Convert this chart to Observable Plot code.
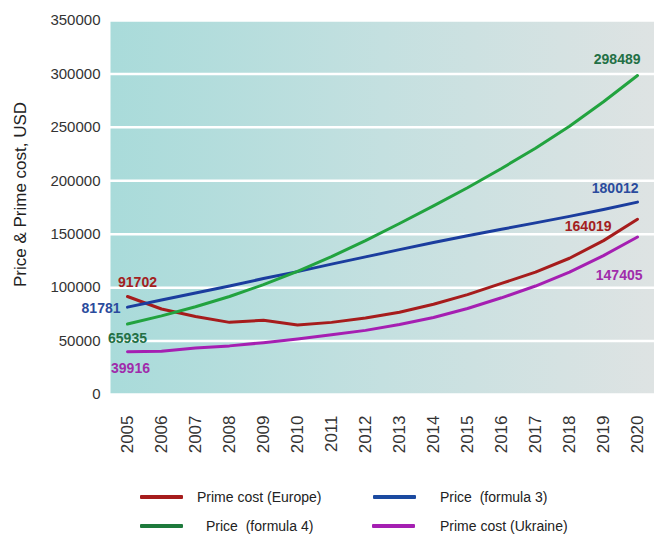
<!DOCTYPE html>
<html>
<head>
<meta charset="utf-8">
<script src="https://cdn.jsdelivr.net/npm/d3@7"></script>
<script src="https://cdn.jsdelivr.net/npm/@observablehq/plot@0.6"></script>
<style>
  html, body { margin: 0; padding: 0; background: #ffffff; }
  #wrap { position: relative; width: 654px; height: 535px; font-family: "Liberation Sans", Arial, sans-serif; }
  .leg { position: absolute; display: flex; align-items: center; font-size: 14px; color: #222; white-space: pre; }
  .sw { display: inline-block; width: 43px; height: 4px; border-radius: 1px; }
</style>
</head>
<body>
<div id="wrap"></div>
<script>
const years = [2005, 2006, 2007, 2008, 2009, 2010, 2011, 2012, 2013, 2014, 2015, 2016, 2017, 2018, 2019, 2020];
const primeCostEurope  = [91702, 80000, 73000, 67500, 69500, 65000, 67500, 71500, 77000, 84500, 93500, 104000, 114500, 127500, 144000, 164019];
const priceFormula3    = [81781, 88500, 95000, 101500, 108500, 115000, 122000, 128800, 135600, 142300, 148600, 154600, 160600, 166700, 173200, 180012];
const priceFormula4    = [65935, 73600, 82100, 91700, 102800, 115200, 129000, 144000, 160000, 176500, 193500, 211500, 230500, 251000, 274000, 298489];
const primeCostUkraine = [39916, 40400, 43500, 45500, 48500, 52000, 56000, 60000, 65500, 72000, 80500, 90500, 101500, 114500, 130000, 147405];
const seriesNames = ["Prime cost (Europe)", "Price  (formula 3)", "Price  (formula 4)", "Prime cost (Ukraine)"];
const seriesColors = ["#a61c1c", "#1b3d9e", "#22a33f", "#a51fb2"];
const labelColors = ["#a32020", "#2a4b9d", "#237045", "#a02cab"];
const legendColors = ["#a61c1c", "#1b4aa0", "#1e7a3c", "#a51fb2"];
const yTicks = [0, 50000, 100000, 150000, 200000, 250000, 300000, 350000];
const yLabel = "Price & Prime cost, USD";

const seriesValues = [primeCostEurope, priceFormula3, priceFormula4, primeCostUkraine];
const table = [];
seriesValues.forEach((vals, s) => years.forEach((yr, i) => table.push({year: yr, value: vals[i], series: seriesNames[s]})));

function endLabel(s, idx, opts) {
  const vals = seriesValues[s];
  return Plot.text([{year: years[idx], value: vals[idx]}], {
    x: "year", y: "value", text: d => String(d.value),
    fill: labelColors[s], fontWeight: "bold", fontSize: 14, ...opts
  });
}
const last = years.length - 1;

const chart = Plot.plot({
  width: 654, height: 470,
  marginLeft: 110, marginRight: 0, marginTop: 20, marginBottom: 76,
  style: {fontFamily: "'Liberation Sans', Arial, sans-serif", background: "transparent", overflow: "visible", color: "#333"},
  x: {type: "point", domain: years, padding: 0.5},
  y: {domain: [0, 350000]},
  color: {domain: seriesNames, range: seriesColors},
  marks: [
    Plot.frame({fill: "url(#bggrad)", stroke: "none"}),
    Plot.ruleY(yTicks, {stroke: "white", strokeWidth: 2.5}),
    Plot.axisY({ticks: yTicks, tickSize: 0, tickPadding: 10, tickFormat: d => String(d), fontSize: 15, label: null}),
    Plot.axisX({tickRotate: -90, tickSize: 0, tickPadding: 21, tickFormat: d => String(d), fontSize: 17, label: null}),
    Plot.text([yLabel], {frameAnchor: "left", textAnchor: "middle", text: d => d, rotate: -90, dx: -90, dy: -13, fontSize: 17, fill: "#222"}),
    Plot.line(table, {x: "year", y: "value", stroke: "series", z: "series", strokeWidth: 3}),
    endLabel(0, 0, {dx: 10, dy: -14}),
    endLabel(1, 0, {textAnchor: "end", dx: -7, dy: 1}),
    endLabel(2, 0, {dx: 0, dy: 14}),
    endLabel(3, 0, {dx: 3, dy: 17}),
    endLabel(2, last, {textAnchor: "end", dx: 3, dy: -16}),
    endLabel(1, last, {textAnchor: "end", dx: 1, dy: -14}),
    endLabel(0, last, {textAnchor: "end", dx: -26, dy: 7}),
    endLabel(3, last, {textAnchor: "end", dx: 5, dy: 39})
  ]
});

const svg = d3.select(chart);
const grad = svg.insert("defs", ":first-child").append("linearGradient")
  .attr("id", "bggrad").attr("x1", "0").attr("x2", "1").attr("y1", "0").attr("y2", "0");
grad.append("stop").attr("offset", "0%").attr("stop-color", "#a9dbda");
grad.append("stop").attr("offset", "50%").attr("stop-color", "#c4e0e0");
grad.append("stop").attr("offset", "100%").attr("stop-color", "#dee3e3");

const wrap = document.getElementById("wrap");
wrap.appendChild(chart);

const legendPos = [
  {left: 140, top: 487, gap: 14},
  {left: 373, top: 487, gap: 24},
  {left: 140, top: 516, gap: 23},
  {left: 372, top: 516, gap: 25}
];
const legendOrder = [0, 1, 2, 3];
legendOrder.forEach((s, k) => {
  const p = legendPos[k];
  const div = document.createElement("div");
  div.className = "leg";
  div.style.left = p.left + "px";
  div.style.top = p.top + "px";
  div.style.height = "20px";
  const sw = document.createElement("span");
  sw.className = "sw";
  sw.style.background = legendColors[s];
  sw.style.marginRight = p.gap + "px";
  const tx = document.createElement("span");
  tx.textContent = seriesNames[s];
  div.appendChild(sw);
  div.appendChild(tx);
  wrap.appendChild(div);
});
</script>
</body>
</html>
